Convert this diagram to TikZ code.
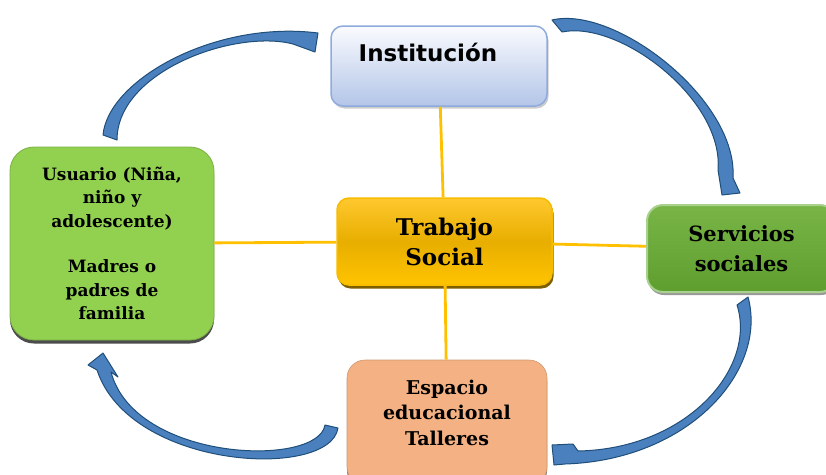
\documentclass[tikz,border=0pt]{standalone}
\usepackage{fontspec}
\usepackage{xcolor}
\usepackage{tikz}
\usetikzlibrary{shadows}
\newfontfamily\serifbox{DejaVu Serif}
\newfontfamily\sansbox{DejaVu Sans}
\definecolor{instTop}{HTML}{FAFBFE}
\definecolor{instBot}{HTML}{B3C5E8}
\definecolor{instLine}{HTML}{8FAADC}
\definecolor{usrFill}{HTML}{92D050}
\definecolor{goldTop}{HTML}{FFC82E}
\definecolor{goldMid}{HTML}{E8AE00}
\definecolor{goldBot}{HTML}{FFC400}
\definecolor{goldLine}{HTML}{F7BC00}
\definecolor{goldShadow}{HTML}{7F6000}
\definecolor{servTop}{HTML}{78B546}
\definecolor{servBot}{HTML}{5E9E2F}
\definecolor{servLine}{HTML}{A9D18E}
\definecolor{espFill}{HTML}{F4B183}
\definecolor{linkC}{HTML}{FFC000}
\definecolor{arrowFill}{HTML}{4A80BE}
\definecolor{arrowLine}{HTML}{1F4E79}
\tikzset{
  txt/.style={font=\serifbox\bfseries, align=center, text=black},
  instbox/.style={rounded corners=12pt, draw=instLine, line width=1.5pt,
    top color=instTop, bottom color=instBot, minimum width=216pt, minimum height=80pt,
    drop shadow={shadow xshift=1.5pt, shadow yshift=-2.5pt, fill=black!40}},
  usrbox/.style={txt, rounded corners=24pt, fill=usrFill, draw=usrFill!85!black, line width=0.8pt,
    minimum width=204pt, minimum height=193pt,
    drop shadow={shadow xshift=0pt, shadow yshift=-3.5pt, fill=black!70, opacity=1}},
  trabox/.style={txt, rounded corners=12pt, top color=goldTop, bottom color=goldBot, middle color=goldMid,
    draw=goldLine, line width=1.5pt, minimum width=215pt, minimum height=87pt,
    drop shadow={shadow xshift=1.5pt, shadow yshift=-3.5pt, fill=goldShadow, opacity=1}},
  servbox/.style={txt, rounded corners=16pt, top color=servTop, bottom color=servBot,
    draw=servLine, line width=2pt, minimum width=189pt, minimum height=87pt,
    drop shadow={shadow xshift=1pt, shadow yshift=-3pt, fill=black!40, opacity=1}},
  espbox/.style={rounded corners=18pt, fill=espFill, draw=espFill!85!black, line width=0.6pt,
    minimum width=200pt, minimum height=125pt,
    drop shadow={shadow xshift=0pt, shadow yshift=-3pt, fill=black!65, opacity=1}},
  linkline/.style={draw=linkC, line width=2.8pt},
  blockarrow/.style={fill=arrowFill, draw=arrowLine, line width=1pt, line join=round}
}
\begin{document}
\begin{tikzpicture}[x=1pt,y=-1pt]
  \useasboundingbox (0,0) rectangle (826,474);

  % boxes
  \node[instbox] (inst) at (439,66) {};
  \node[font=\sansbox\bfseries\fontsize{23}{26}\selectfont] (instT) at (428,52) {Institución};
  \node[usrbox, font=\serifbox\bfseries\fontsize{17}{23.5}\selectfont] (usr) at (112,243.5)
    {Usuario (Niña,\\niño y\\adolescente)\\[22pt]Madres o\\padres de\\familia};
  \node[trabox, font=\serifbox\bfseries\fontsize{23}{30}\selectfont] (trab) at (444.5,241.5) {Trabajo\\Social};
  \node[servbox, font=\serifbox\bfseries\fontsize{21}{30}\selectfont] (serv) at (741.5,248.5) {Servicios\\sociales};
  \node[espbox] (esp) at (447,422.5) {};
  \node[txt, font=\serifbox\bfseries\fontsize{19}{25.5}\selectfont] (espT) at (447,412.5) {Espacio\\educacional\\Talleres};

  % links to the centre
  \draw[linkline] (inst) -- (trab);
  \draw[linkline] (usr) -- (trab);
  \draw[linkline] (trab) -- (serv);
  \draw[linkline] (trab) -- (esp);

  % curved block arrows (clockwise)
  \draw[blockarrow] (103,135) .. controls (108,80) and (215,20) .. (318,33)
    -- (315,52) -- (293,44) .. controls (235,29) and (117,71) .. (117,140) -- cycle;
  \draw[blockarrow] (552,20) .. controls (615,5) and (738,100) .. (733,178)
    -- (740,193) -- (722,195) -- (718,170) .. controls (724,100) and (620,20) .. (562,32) -- cycle;
  \draw[blockarrow] (748,297) .. controls (768,370) and (690,460) .. (565,464)
    -- (554,465) -- (552,445) -- (573,444) -- (578,451) .. controls (687,449) and (757,368) .. (737,305) -- cycle;
  \draw[blockarrow] (338,428) .. controls (330,480) and (130,470) .. (97,370)
    -- (88,365) -- (103,353) -- (118,377) -- (111,372) .. controls (135,462) and (318,468) .. (325,425) -- cycle;
\end{tikzpicture}
\end{document}
